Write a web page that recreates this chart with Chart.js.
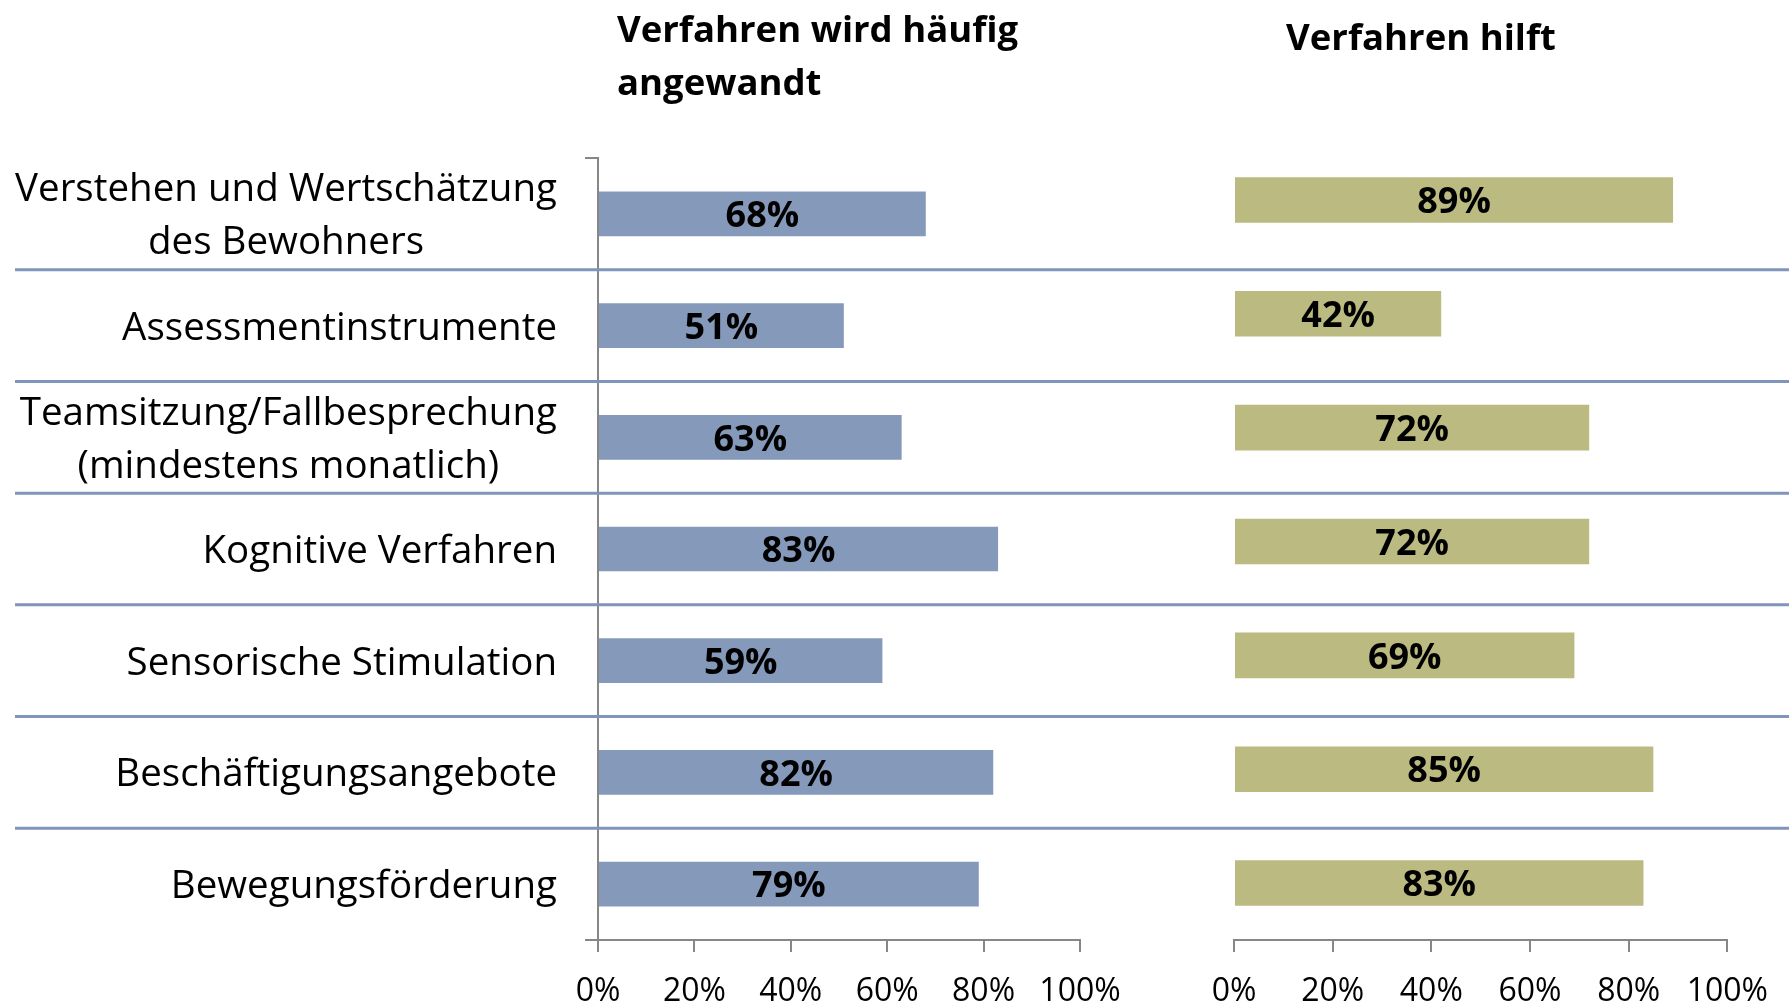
<!DOCTYPE html>
<html>
<head>
<meta charset="utf-8">
<script src="https://cdn.jsdelivr.net/npm/chart.js@4.4.1/dist/chart.umd.min.js"></script>
<style>
  html, body { margin: 0; padding: 0; background: #fff; overflow: hidden; }
  #wrap { position: relative; width: 1789px; height: 1006px; }
  canvas { position: absolute; left: 0; top: 0; }
</style>
</head>
<body>
<div id="wrap">
  <canvas id="used-chart" width="1789" height="1006"></canvas>
  <canvas id="helps-chart" width="1789" height="1006"></canvas>
</div>
<script>
const categories = [
  ['Verstehen und Wertschätzung', 'des Bewohners'],
  'Assessmentinstrumente',
  ['Teamsitzung/Fallbesprechung', '(mindestens monatlich)'],
  'Kognitive Verfahren',
  'Sensorische Stimulation',
  'Beschäftigungsangebote',
  'Bewegungsförderung'
];
const usedOften = [68, 51, 63, 83, 59, 82, 79];
const helps = [89, 42, 72, 72, 69, 85, 83];
const percentTicks = [0, 20, 40, 60, 80, 100];
const titleUsed = ['Verfahren wird häufig', 'angewandt'];
const titleHelps = ['Verfahren hilft'];

Chart.defaults.font.family = "'Open Sans', sans-serif";
Chart.defaults.color = '#000';

const axisGrey = '#878787';

// category names, multi-line ones centred on their widest line
const categoryLabels = {
  id: 'categoryLabels',
  afterDraw(chart, args, opts) {
    const ctx = chart.ctx;
    const y = chart.scales.y;
    const right = chart.chartArea.left - opts.gap;
    ctx.save();
    ctx.font = opts.font;
    ctx.fillStyle = '#000';
    ctx.textAlign = 'center';
    ctx.textBaseline = 'middle';
    categories.forEach((label, i) => {
      const lines = Array.isArray(label) ? label : [label];
      const widest = Math.max(...lines.map(l => ctx.measureText(l).width));
      const cx = right - widest / 2;
      const cy = y.getPixelForTick(i) + 3;
      lines.forEach((l, k) => {
        ctx.fillText(l, cx, cy + (k - (lines.length - 1) / 2) * opts.lineHeight);
      });
    });
    ctx.restore();
  }
};

// value labels in the middle of each bar
const barValues = {
  id: 'barValues',
  afterDatasetsDraw(chart) {
    const ctx = chart.ctx;
    const values = chart.data.datasets[0].data;
    ctx.save();
    ctx.font = "bold 36px 'Open Sans'";
    ctx.fillStyle = '#000';
    ctx.textAlign = 'center';
    ctx.textBaseline = 'middle';
    chart.getDatasetMeta(0).data.forEach((bar, i) => {
      ctx.fillText(values[i] + '%', (bar.base + bar.x) / 2, bar.y + 3);
    });
    ctx.restore();
  }
};

// blue lines between the rows, across the whole page
const rowSeparators = {
  id: 'rowSeparators',
  beforeDatasetsDraw(chart) {
    const ctx = chart.ctx;
    const y = chart.scales.y;
    ctx.save();
    ctx.strokeStyle = '#7f95ba';
    ctx.lineWidth = 3;
    for (let i = 1; i < categories.length; i++) {
      const py = (y.getPixelForTick(i - 1) + y.getPixelForTick(i)) / 2;
      ctx.beginPath();
      ctx.moveTo(15, py);
      ctx.lineTo(chart.width, py);
      ctx.stroke();
    }
    ctx.restore();
  }
};

const headline = {
  id: 'headline',
  afterDraw(chart, args, opts) {
    const ctx = chart.ctx;
    ctx.save();
    ctx.font = "bold 36.5px 'Open Sans'";
    ctx.fillStyle = '#000';
    ctx.textAlign = opts.align;
    ctx.textBaseline = 'middle';
    opts.lines.forEach((l, k) => {
      ctx.fillText(l, chart.chartArea.left + opts.dx, opts.y + k * 53);
    });
    ctx.restore();
  }
};

function xScale() {
  return {
    min: 0,
    max: 100,
    afterBuildTicks: s => { s.ticks = percentTicks.map(v => ({ value: v })); },
    afterFit: s => { s.height = 66; },
    border: { color: axisGrey, width: 2 },
    grid: { drawOnChartArea: false, tickLength: 12, color: axisGrey, lineWidth: 2 },
    ticks: { callback: v => v + '%', font: { size: 32 }, padding: 21, maxRotation: 0, autoSkip: false }
  };
}

new Chart(document.getElementById('used-chart'), {
  type: 'bar',
  data: {
    labels: categories,
    datasets: [{
      data: usedOften,
      backgroundColor: '#8599ba',
      barPercentage: 0.4,
      categoryPercentage: 1
    }]
  },
  options: {
    indexAxis: 'y',
    responsive: false,
    animation: false,
    layout: { padding: { top: 158, right: 709, left: 0, bottom: 0 } },
    scales: {
      x: xScale(),
      y: {
        afterFit: s => { s.width = 598; },
        border: { color: axisGrey, width: 2 },
        grid: { offset: true, drawOnChartArea: false, tickLength: 13, color: axisGrey, lineWidth: 2 },
        ticks: { display: false }
      }
    },
    plugins: {
      legend: { display: false },
      tooltip: { enabled: false },
      categoryLabels: { font: "38.5px 'Open Sans'", gap: 41, lineHeight: 53 },
      headline: { lines: titleUsed, dx: 19, y: 32, align: 'left' }
    }
  },
  plugins: [rowSeparators, barValues, categoryLabels, headline]
});

new Chart(document.getElementById('helps-chart'), {
  type: 'bar',
  data: {
    labels: categories,
    datasets: [{
      data: helps,
      backgroundColor: '#bbba80',
      barPercentage: 0.4,
      categoryPercentage: 1
    }]
  },
  options: {
    indexAxis: 'y',
    responsive: false,
    animation: false,
    layout: { padding: { top: 143, right: 60, left: 1234, bottom: 0 } },
    scales: {
      x: xScale(),
      y: { display: false }
    },
    plugins: {
      legend: { display: false },
      tooltip: { enabled: false },
      headline: { lines: titleHelps, dx: 187, y: 40, align: 'center' }
    }
  },
  plugins: [barValues, headline]
});
</script>
</body>
</html>
